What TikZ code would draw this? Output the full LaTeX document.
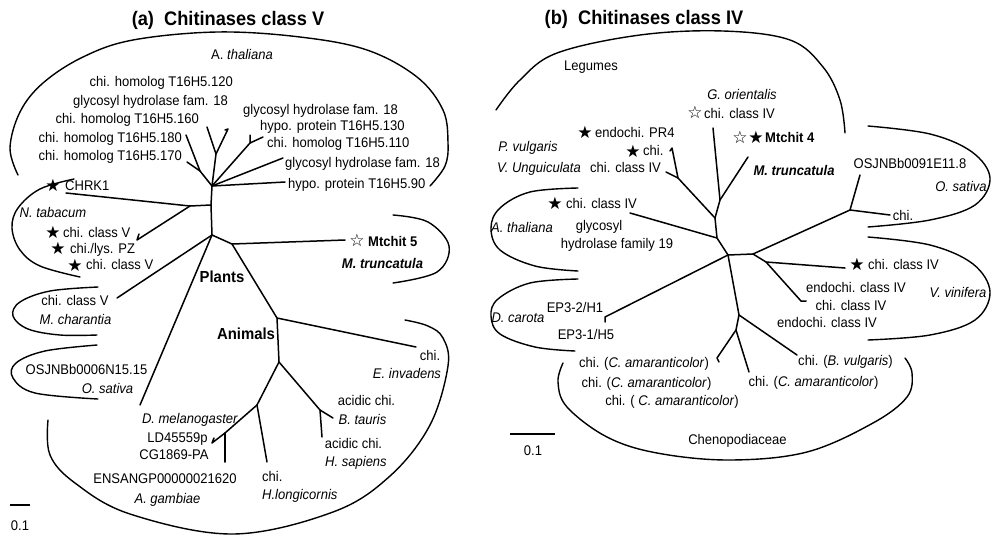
\documentclass[tikz,border=0pt]{standalone}
\usepackage{fontspec}
\setmainfont{Liberation Sans}[FakeStretch=0.93]
\newfontfamily\symf{DejaVu Sans}
\begin{document}
\begin{tikzpicture}[x=1pt,y=-1pt,
  t/.style={inner sep=0pt, font=\fontsize{14}{16}\selectfont, text height=10pt, text depth=0pt},
  tbold/.style={t, font=\fontsize{14}{16}\selectfont\bfseries},
  big/.style={inner sep=0pt, font=\fontsize{16}{18}\selectfont\bfseries, text height=11.4pt, text depth=0pt},
  ttl/.style={inner sep=0pt, font=\fontsize{19.6}{22}\selectfont\bfseries, text height=14pt, text depth=0pt},
  st/.style={inner sep=0pt, font=\fontsize{17}{19}\selectfont\symf},
  edge/.style={line width=1.5pt, line cap=round, line join=round},
  br/.style={line width=1.4pt, line cap=round},
]
\useasboundingbox (0,0) rectangle (992,536);

% ================= (a) =================
\node[ttl] (ta) at (228,18) {(a)\ \ Chitinases class V};

% brackets
\draw[br] plot[smooth, tension=0.6] coordinates {(18,175) (10,148) (20,112) (43,83) (83,57) (133,40) (217,32) (300,37) (367,50) (417,77) (443,110) (448,143) (445,166) (430,186)};
\draw[br] plot[smooth, tension=0.6] coordinates {(74,179) (40,189) (18,208) (12,228) (20,250) (40,266) (80,277)};
\draw[br] plot[smooth, tension=0.6] coordinates {(98,287) (50,291) (20,302) (13,316) (28,329) (60,335) (97,335)};
\draw[br] plot[smooth, tension=0.6] coordinates {(97,345) (45,351) (16,363) (13,378) (35,393) (98,399)};
\draw[br] plot[smooth, tension=0.6] coordinates {(48,420) (50,455) (75,483) (130,514) (233,534) (333,512) (390,476) (430,425) (448,366) (443,338) (428,326) (405,320)};
\draw[br] plot[smooth, tension=0.6] coordinates {(393,215) (428,222) (449,246) (437,272) (393,283)};

% tree (a)
\coordinate (H1) at (212,186);
\coordinate (Ta) at (200,171);
\coordinate (t180) at (186,135);
\coordinate (t170) at (187,162);
\coordinate (Yn) at (216,154);
\coordinate (y1) at (207,127);
\coordinate (y2) at (228,129);
\coordinate (y2k) at (225,130);
\coordinate (Rn) at (250,143);
\coordinate (r1) at (250,135);
\coordinate (r2) at (263,137);
\coordinate (r3) at (283,158);
\coordinate (r4) at (285,182);
\coordinate (N2) at (211,205);
\coordinate (Cn) at (190,206);
\coordinate (chrk) at (66,193);
\coordinate (pz) at (137,240);
\coordinate (pzk) at (139,234);
\coordinate (N3) at (212,235);
\coordinate (Mn) at (232,244);
\coordinate (mt) at (345,240);
\coordinate (An) at (277,318);
\coordinate (ein) at (416,347);
\coordinate (An2) at (279,362);
\coordinate (An3) at (257,405);
\coordinate (An4) at (320,410);
\coordinate (bt) at (333,418);
\coordinate (hs) at (322,437);
\coordinate (An5) at (225,433);
\coordinate (dm) at (212,443);
\coordinate (dmk) at (214,438);
\coordinate (en) at (225,462);
\coordinate (hl) at (267,462);
\coordinate (mch) at (117,298);
\coordinate (osa) at (140,405);

\draw[edge] (H1) -- (Ta) -- (t180);
\draw[edge] (Ta) -- (t170);
\draw[edge] (H1) -- (Yn) -- (y1);
\draw[edge] (Yn) -- (y2) -- (y2k);
\draw[edge] (H1) -- (Rn) -- (r1);
\draw[edge] (Rn) -- (r2);
\draw[edge] (H1) -- (r3);
\draw[edge] (H1) -- (r4);
\draw[edge] (H1) -- (N2) -- (N3);
\draw[edge] (N2) -- (Cn) -- (chrk);
\draw[edge] (Cn) -- (pz) -- (pzk);
\draw[edge] (N3) -- (Mn) -- (mt);
\draw[edge] (Mn) -- (An) -- (ein);
\draw[edge] (N3) -- (mch);
\draw[edge] (N3) -- (osa);
\draw[edge] (An) -- (An2) -- (An3);
\draw[edge] (An2) -- (An4) -- (bt);
\draw[edge] (An4) -- (hs);
\draw[edge] (An3) -- (An5) -- (dm) -- (dmk);
\draw[edge] (An5) -- (en);
\draw[edge] (An3) -- (hl);

% labels (a)
\node[t] (athA) at (242,54) {A. \textit{thaliana}};
\node[t, anchor=east] (l120) at (233,81) {chi. homolog T16H5.120};
\node[t, anchor=east] (lgh1) at (228,100) {glycosyl hydrolase fam. 18};
\node[t, anchor=east] (l160) at (199,118) {chi. homolog T16H5.160};
\node[t, anchor=east] (l180) at (182,137) {chi. homolog T16H5.180};
\node[t, anchor=east] (l170) at (182,155) {chi. homolog T16H5.170};
\node[t, anchor=west] (lgh2) at (243,109) {glycosyl hydrolase fam. 18};
\node[t, anchor=west] (l130) at (260,125) {hypo. protein T16H5.130};
\node[t, anchor=west] (l110) at (267,142) {chi. homolog T16H5.110};
\node[t, anchor=west] (lgh3) at (285,162) {glycosyl hydrolase fam. 18};
\node[t, anchor=west] (l90) at (288,183) {hypo. protein T16H5.90};

\node[st] (s1) at (53,185) {★};
\node[t, anchor=west] (chrk1) at (65,185) {CHRK1};
\node[t] (ntab) at (53,212) {\textit{N. tabacum}};
\node[st] (s2) at (53,232) {★};
\node[t, anchor=west] (tc1) at (63,232) {chi. class V};
\node[st] (s3) at (58,248) {★};
\node[t, anchor=west] (tpz) at (70,248) {chi./lys. PZ};
\node[st] (s4) at (75,265) {★};
\node[t, anchor=west] (tc2) at (86,264) {chi. class V};

\node[t] (mchc) at (75,300) {chi. class V};
\node[t] (mchs) at (75.5,319) {\textit{M. charantia}};
\node[t] (osj1) at (86.5,369) {OSJNBb0006N15.15};
\node[t] (osa1) at (107.5,388) {\textit{O. sativa}};

\node[big] (plants) at (222,277) {Plants};
\node[big] (animals) at (246,334) {Animals};

\node[st] (s5) at (357,240) {☆};
\node[tbold, anchor=west] (mt5) at (368,241) {Mtchit 5};
\node[tbold] (mtr1) at (382.5,263) {\textit{M. truncatula}};

\node[t] (einc) at (430,355) {chi.};
\node[t] (eins) at (407,373) {\textit{E. invadens}};
\node[t] (btc) at (366.5,400) {acidic chi.};
\node[t] (bts) at (362.5,419) {\textit{B. tauris}};
\node[t] (hsc) at (353.5,443) {acidic chi.};
\node[t] (hss) at (356,461) {\textit{H. sapiens}};
\node[t] (dmel) at (190,418) {\textit{D. melanogaster}};
\node[t] (ld) at (177.5,437) {LD45559p};
\node[t] (cg) at (174,454) {CG1869-PA};
\node[t] (ens) at (165,478) {ENSANGP00000021620};
\node[t] (agam) at (167.5,498) {\textit{A. gambiae}};
\node[t, anchor=west] (hlc) at (262,476) {chi.};
\node[t, anchor=west] (hls) at (262,494) {\textit{H.longicornis}};

\coordinate (sa1) at (10,505);
\coordinate (sa2) at (30,505);
\draw[line width=1.4pt] (sa1) -- (sa2);
\node[t] (sca) at (20,525) {0.1};

% ================= (b) =================
\node[ttl] (tb) at (644,17) {(b)\ \ Chitinases class IV};

\draw[br] plot[smooth, tension=0.6] coordinates {(496,110) (520,80) (557,53) (640,35) (723,31) (790,40) (823,67) (840,100) (845,133)};
\draw[br] plot[smooth, tension=0.6] coordinates {(868,126) (930,134) (972,152) (990,178) (975,205) (930,220) (868,227)};
\draw[br] plot[smooth, tension=0.6] coordinates {(868,237) (930,245) (973,264) (990,292) (975,320) (930,335) (868,340)};
\draw[br] plot[smooth, tension=0.6] coordinates {(578,188) (530,192) (500,208) (491,228) (500,250) (535,266) (578,271)};
\draw[br] plot[smooth, tension=0.6] coordinates {(578,279) (530,283) (498,299) (491,316) (500,334) (535,347) (575,351)};
\draw[br] plot[smooth, tension=0.6] coordinates {(563,363) (558,382) (567,407) (607,437) (657,453) (730,460) (807,452) (873,423) (907,397) (912,373) (905,358)};

% tree (b)
\coordinate (L) at (728,255);
\coordinate (R) at (753,254);
\coordinate (U1) at (717,238);
\coordinate (U2) at (715,218);
\coordinate (U3) at (678,178);
\coordinate (U4) at (720,200);
\coordinate (gor) at (713,128);
\coordinate (mt4) at (748,157);
\coordinate (chiP) at (672,148);
\coordinate (chiPk) at (670,151);
\coordinate (vu) at (666,172);
\coordinate (ath) at (630,213);
\coordinate (OSn) at (850,210);
\coordinate (osj) at (860,175);
\coordinate (oschi) at (890,215);
\coordinate (V1) at (766,262);
\coordinate (vch) at (845,268);
\coordinate (vend) at (801,301);
\coordinate (vendk) at (806,301);
\coordinate (CH1) at (739,315);
\coordinate (CH2) at (736,330);
\coordinate (bv) at (797,355);
\coordinate (ca1) at (717,358);
\coordinate (ca1k) at (719,362);
\coordinate (ca2) at (749,372);
\coordinate (ep) at (605,317);
\coordinate (epk) at (605,322);

\draw[edge] (L) -- (R);
\draw[edge] (L) -- (U1) -- (U2) -- (U3) -- (vu);
\draw[edge] (U3) -- (chiP) -- (chiPk);
\draw[edge] (U2) -- (U4) -- (gor);
\draw[edge] (U4) -- (mt4);
\draw[edge] (U1) -- (ath);
\draw[edge] (R) -- (OSn) -- (osj);
\draw[edge] (OSn) -- (oschi);
\draw[edge] (R) -- (V1) -- (vch);
\draw[edge] (V1) -- (vend) -- (vendk);
\draw[edge] (L) -- (CH1) -- (CH2) -- (ca1) -- (ca1k);
\draw[edge] (CH1) -- (bv);
\draw[edge] (CH2) -- (ca2);
\draw[edge] (L) -- (ep) -- (epk);

% labels (b)
\node[t] (leg) at (591,65) {Legumes};
\node[t] (gori) at (742,94) {\textit{G. orientalis}};
\node[st] (s6) at (695,112) {☆};
\node[t, anchor=west] (gchi) at (704,113) {chi. class IV};
\node[st] (s7) at (585,132) {★};
\node[t, anchor=west] (pr4) at (595,132) {endochi. PR4};
\node[st] (s8) at (633,151) {★};
\node[t, anchor=west] (chiPt) at (643,150) {chi.};
\node[t] (pvul) at (528,146) {\textit{P. vulgaris}};
\node[t] (vung) at (539,167) {\textit{V. Unguiculata}};
\node[t, anchor=west] (vuc) at (590,167) {chi. class IV};
\node[st] (s9) at (740,137) {☆};
\node[st] (s10) at (756,137) {★};
\node[tbold, anchor=west] (mt4t) at (765,137) {Mtchit 4};
\node[tbold] (mtr2) at (794,170) {\textit{M. truncatula}};
\node[t] (osj2) at (910,163) {OSJNBb0091E11.8};
\node[t] (osa2) at (961,186) {\textit{O. sativa}};
\node[t] (oschit) at (903,215) {chi.};
\node[st] (s11) at (857,264) {★};
\node[t, anchor=west] (vcht) at (868,264) {chi. class IV};
\node[t] (ve1) at (856,287) {endochi. class IV};
\node[t] (vvin) at (958,292) {\textit{V. vinifera}};
\node[t] (ve2) at (851,305) {chi. class IV};
\node[t] (ve3) at (827,322) {endochi. class IV};
\node[st] (s12) at (555,203) {★};
\node[t, anchor=west] (athc) at (566,203) {chi. class IV};
\node[t] (athB) at (522,227) {\textit{A. thaliana}};
\node[t] (gly) at (599,225) {glycosyl};
\node[t] (hyd) at (617,243) {hydrolase family 19};
\node[t] (dcar) at (518,317) {\textit{D. carota}};
\node[t] (ep32) at (575,307) {EP3-2/H1};
\node[t] (ep31) at (586,334) {EP3-1/H5};
\node[t] (ca1t) at (644,362) {chi. (\textit{C. amaranticolor})};
\node[t] (ca2t) at (646.5,382) {chi. (\textit{C. amaranticolor})};
\node[t] (ca3t) at (672,400) {chi. ( \textit{C. amaranticolor})};
\node[t] (ca4t) at (813.5,381) {chi. (\textit{C. amaranticolor})};
\node[t] (bvt) at (845.5,360) {chi. (\textit{B. vulgaris})};
\node[t] (cheno) at (737.5,439) {Chenopodiaceae};

\coordinate (sb1) at (510,434);
\coordinate (sb2) at (555,434);
\draw[line width=1.4pt] (sb1) -- (sb2);
\node[t] (scb) at (533,450) {0.1};
\end{tikzpicture}
\end{document}
